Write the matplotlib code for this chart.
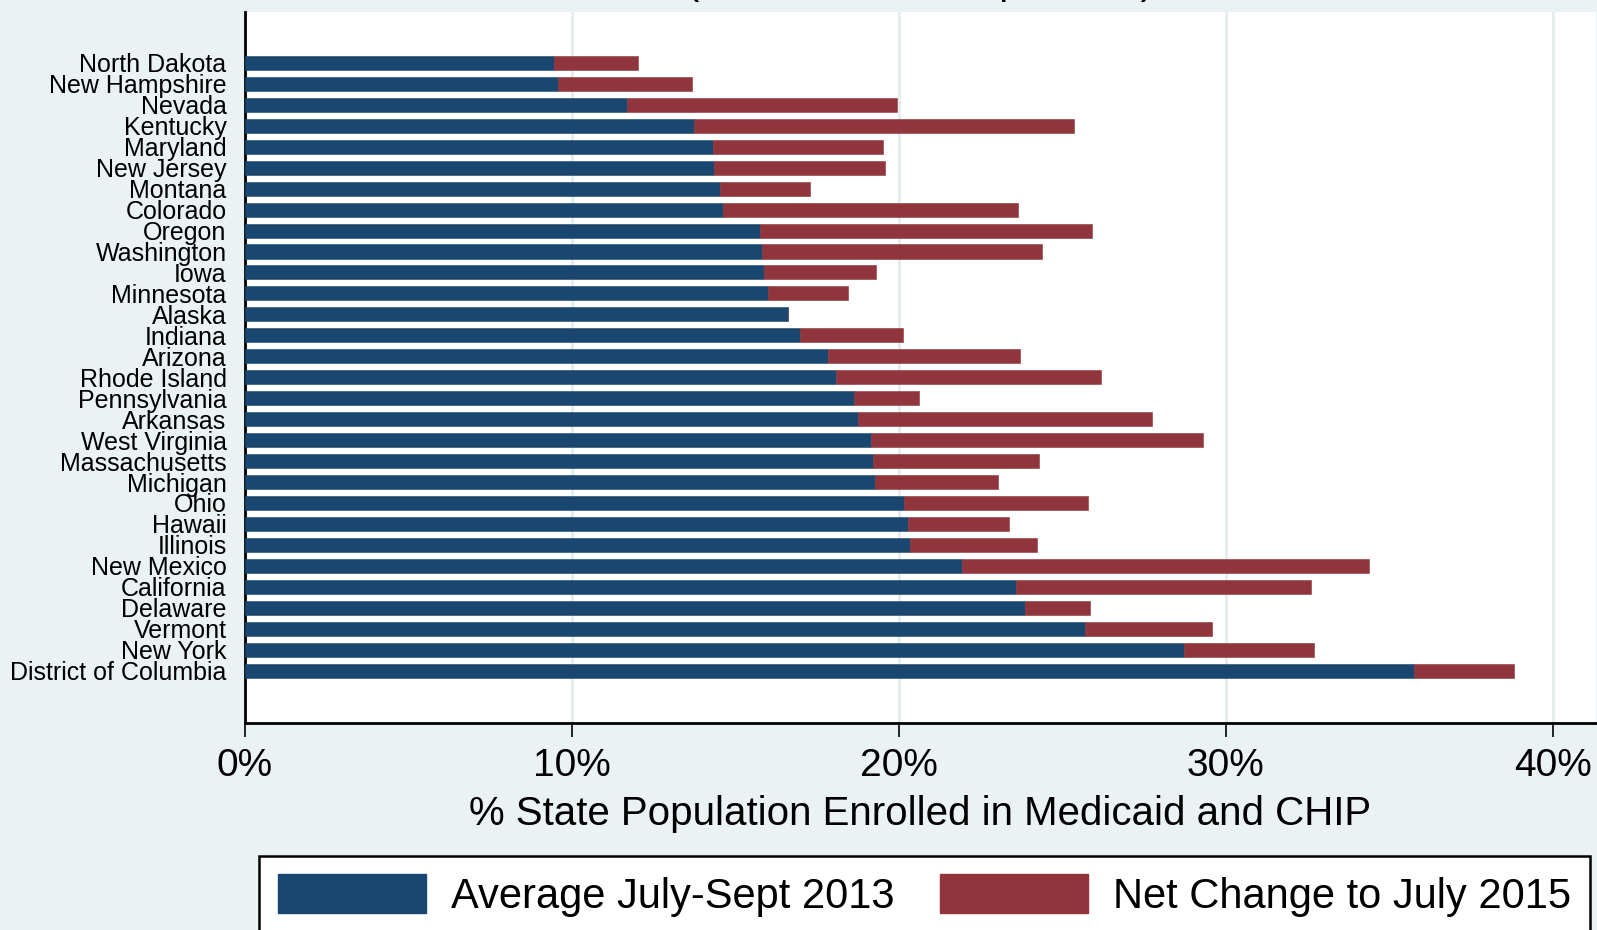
import matplotlib
matplotlib.use('Agg')
import matplotlib.pyplot as plt
from matplotlib.patches import Patch

# Bundesstaaten von oben nach unten, Werte in % der Bevoelkerung
states = ['North Dakota', 'New Hampshire', 'Nevada', 'Kentucky', 'Maryland', 'New Jersey',
          'Montana', 'Colorado', 'Oregon', 'Washington', 'Iowa', 'Minnesota', 'Alaska',
          'Indiana', 'Arizona', 'Rhode Island', 'Pennsylvania', 'Arkansas', 'West Virginia',
          'Massachusetts', 'Michigan', 'Ohio', 'Hawaii', 'Illinois', 'New Mexico',
          'California', 'Delaware', 'Vermont', 'New York', 'District of Columbia']
base_2013 = [9.46, 9.58, 11.70, 13.74, 14.31, 14.35, 14.54, 14.62, 15.76, 15.82, 15.88,
             16.00, 16.61, 16.99, 17.84, 18.08, 18.65, 18.76, 19.16, 19.22, 19.28, 20.18,
             20.28, 20.35, 21.94, 23.59, 23.86, 25.70, 28.74, 35.77]
total_2015 = [12.02, 13.67, 19.94, 25.37, 19.53, 19.58, 17.28, 23.65, 25.92, 24.39, 19.30,
              18.45, 16.63, 20.14, 23.71, 26.18, 20.62, 27.76, 29.31, 24.30, 23.05, 25.79,
              23.39, 24.23, 34.40, 32.60, 25.86, 29.57, 32.69, 38.83]
net_change = [t - b for t, b in zip(total_2015, base_2013)]
x_ticks = [0, 10, 20, 30, 40]
x_ticklabels = ['0%', '10%', '20%', '30%', '40%']

BLUE = '#1a476f'
RED = '#90353b'
BG = '#eaf2f3'
GRID = '#e3ecee'

plt.rcParams['font.family'] = ['Liberation Sans', 'DejaVu Sans']

fig = plt.figure(figsize=(15.97, 9.30), dpi=100, facecolor=BG)
ax = fig.add_axes([0.1532, 0.2226, 0.846, 0.7645])
ax.set_facecolor('white')

y = list(range(len(states)))
ax.barh(y, base_2013, height=0.67, color=BLUE, edgecolor=BLUE, linewidth=0.4, zorder=3)
ax.barh(y, net_change, left=base_2013, height=0.67, color=RED, edgecolor=RED,
        linewidth=0.4, zorder=3)

ax.set_xlim(0, 41.32)
ax.set_ylim(len(states) - 1 + 2.5, -2.43)
ax.set_yticks(y)
ax.set_yticklabels(states, fontsize=18)
ax.tick_params(axis='y', length=0, pad=13)

ax.set_xticks(x_ticks)
ax.set_xticklabels(x_ticklabels, fontsize=28)
ax.tick_params(axis='x', length=10, width=1.2, pad=8, color='black')
ax.grid(axis='x', color=GRID, linewidth=2, zorder=0)
ax.set_axisbelow(True)

for side in ('top', 'right'):
    ax.spines[side].set_visible(False)
ax.spines['left'].set_linewidth(2)
ax.spines['bottom'].set_linewidth(2)

ax.set_xlabel('% State Population Enrolled in Medicaid and CHIP', fontsize=29, labelpad=8)

# Titel ist im Original oben abgeschnitten -- nur die Unterlaengen ragen ins Bild
fig.text(920 / 1597, 1 + 6 / 930, '(as % of State Population)', ha='center', va='baseline',
         fontsize=29)

handles = [Patch(facecolor=BLUE, edgecolor=BLUE, label='Average July-Sept 2013'),
           Patch(facecolor=RED, edgecolor=RED, label='Net Change to July 2015')]
leg = fig.legend(handles=handles, loc='upper left', bbox_to_anchor=(259 / 1597, 1 - 855.5 / 930),
                 ncol=2, fontsize=30, frameon=True, fancybox=False, shadow=False,
                 handlelength=3.55, handleheight=1.05, handletextpad=0.6, columnspacing=1.1,
                 borderpad=0.45, borderaxespad=0)
leg.get_frame().set_edgecolor('black')
leg.get_frame().set_linewidth(1.8)
leg.get_frame().set_facecolor('white')
leg.get_frame().set_alpha(1)

fig.savefig('out.png', dpi=100, facecolor=BG)
